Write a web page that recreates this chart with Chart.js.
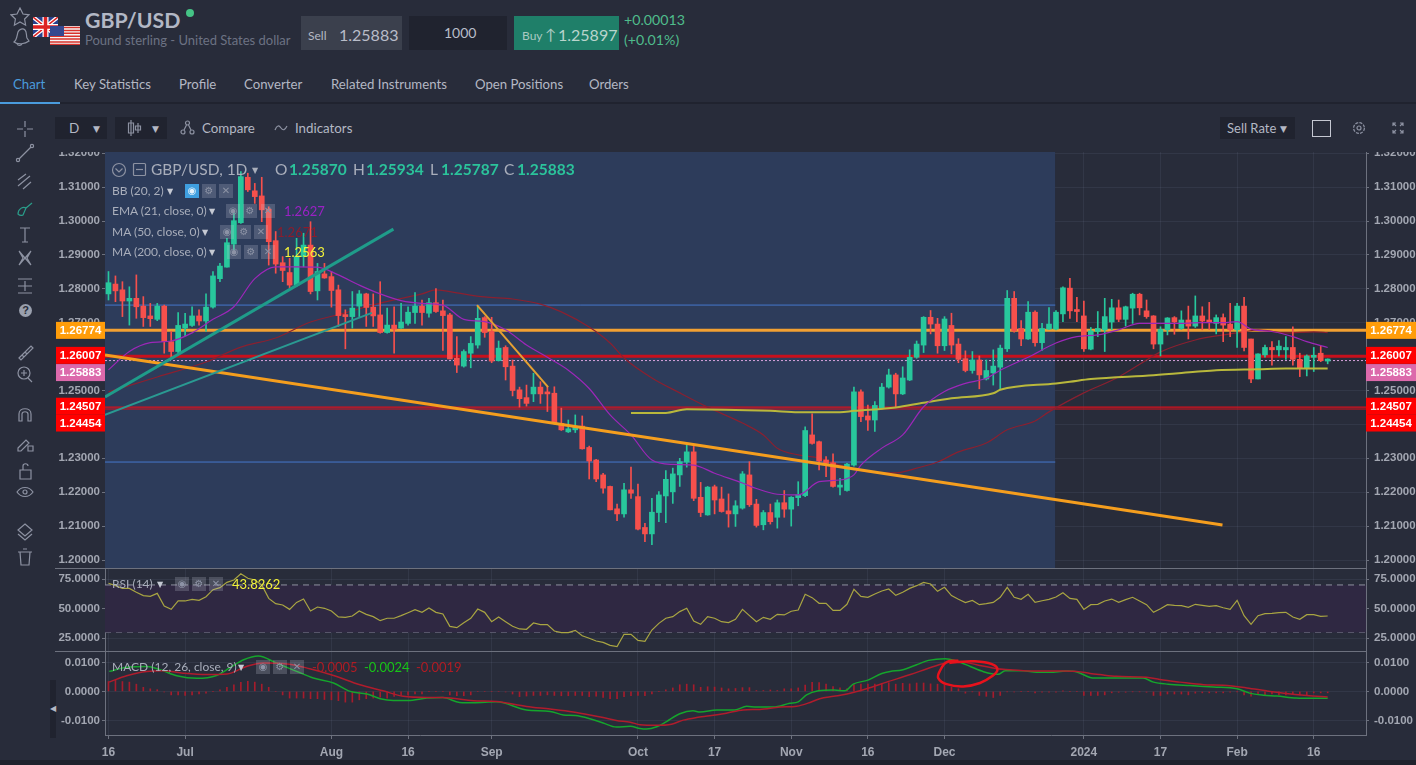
<!DOCTYPE html>
<html>
<head>
<meta charset="utf-8">
<title>GBP/USD</title>
<script src="https://cdn.jsdelivr.net/npm/chart.js@4/dist/chart.umd.min.js"></script>
<style>
  html, body { margin: 0; padding: 0; width: 1416px; height: 765px; overflow: hidden; background: #282c3a; font-family: Lato, "Open Sans", sans-serif; color: #b4b8c4; }
  canvas { position: absolute; left: 56px; display: block; }
  .t { position: absolute; white-space: nowrap; line-height: 1; }
  .box { position: absolute; }
  .rule { position: absolute; left: 55px; width: 1311px; height: 1px; background: #6d717e; }
  .ib { position: absolute; width: 14px; height: 14px; background: rgba(200,205,220,.22); color: #8d93a6; font: 10px/14px "DejaVu Sans"; text-align: center; }
  .ic { position: absolute; fill: none; stroke: #8d92a2; stroke-width: 1.2; }
</style>
</head>
<body>
<div class="box" style="left:0;top:102px;width:1416px;height:2px;background:#20232f"></div>
<div class="box" style="left:0;top:102px;width:60px;height:2px;background:#4a9bdc"></div>
<div class="box" style="left:0;top:760px;width:1416px;height:5px;background:#1f222c"></div>
<div class="box" style="left:50px;top:680px;width:6px;height:58px;background:#20232f"></div>
<div class="t" style="left:50px;top:704px;font:8px 'DejaVu Sans';color:#b4b8c4">◀</div>

<svg class="ic" style="left:10px;top:7px" width="22" height="42" viewBox="0 0 22 42"><path d="M10 1l3 6 6 .8-4.4 4.2 1 6.2L10 15l-5.6 3.2 1-6.2L1 7.8 7 7z"/><path d="M4 35c3-2 3-7 4-10 1-3 5-4 7-2 2 2 1 5 2 8l2 3c-4 3-11 4-15 1zM7 37c1 2 4 2 5 0"/></svg>
<svg style="position:absolute;left:33px;top:17px" width="25" height="20" viewBox="0 0 25 20"><rect width="25" height="20" fill="#27408b"/><path d="M0 0l25 20M25 0L0 20" stroke="#fff" stroke-width="4"/><path d="M0 0l25 20M25 0L0 20" stroke="#d22" stroke-width="1.5"/><path d="M12.5 0v20M0 10h25" stroke="#fff" stroke-width="6"/><path d="M12.5 0v20M0 10h25" stroke="#d22" stroke-width="3.5"/></svg>
<svg style="position:absolute;left:50px;top:26px" width="30" height="19" viewBox="0 0 30 19"><rect width="30" height="19" fill="#f4f4f4"/><path d="M0 1.5h30M0 4.4h30M0 7.3h30M0 10.2h30M0 13.1h30M0 16h30M0 18.6h30" stroke="#d8322a" stroke-width="1.5"/><rect width="14" height="10" fill="#35488f"/></svg>
<div class="t" style="left:85px;top:10px;font-size:21.3px;font-weight:700;color:#b3b8c5">GBP/USD</div>
<div class="box" style="left:186px;top:9px;width:8px;height:8px;border-radius:50%;background:#45c486"></div>
<div class="t" style="left:85px;top:34px;font-size:13px;color:#6c7283">Pound sterling - United States dollar</div>
<div class="box" style="left:301px;top:16px;width:101px;height:34px;background:#3b404d"></div>
<div class="t" style="left:308px;top:30px;font-size:12px;color:#b4b8c4">Sell</div>
<div class="t" style="left:339px;top:27px;font-size:16px;color:#b9bdc9">1.25883</div>
<div class="box" style="left:409px;top:16px;width:98px;height:34px;background:#20232f"></div>
<div class="t" style="left:444px;top:26px;font-size:14px;color:#b9bdc9">1000</div>
<div class="box" style="left:514px;top:16px;width:105px;height:34px;background:#1f7f69"></div>
<div class="t" style="left:522px;top:30px;font-size:12px;color:#a9c9c1">Buy</div>
<div class="t" style="left:545px;top:27px;font-size:15px;color:#a9c9c1">↑</div>
<div class="t" style="left:558px;top:27px;font-size:16px;color:#b9d5cd">1.25897</div>
<div class="t" style="left:624px;top:13px;font-size:14.2px;color:#4fbc8c">+0.00013</div>
<div class="t" style="left:624px;top:33px;font-size:14.2px;color:#4fbc8c">(+0.01%)</div>

<div class="t" style="left:13px;top:78px;font-size:13.2px;color:#4a9bdc">Chart</div>
<div class="t" style="left:74px;top:78px;font-size:13.2px">Key Statistics</div>
<div class="t" style="left:179px;top:78px;font-size:13.2px">Profile</div>
<div class="t" style="left:244px;top:78px;font-size:13.2px">Converter</div>
<div class="t" style="left:331px;top:78px;font-size:13.2px">Related Instruments</div>
<div class="t" style="left:475px;top:78px;font-size:13.2px">Open Positions</div>
<div class="t" style="left:589px;top:78px;font-size:13.2px">Orders</div>

<div class="box" style="left:55px;top:117px;width:52px;height:22px;background:#20232f"></div>
<div class="t" style="left:69px;top:122px;font-size:13.5px">D</div>
<div class="t" style="left:93px;top:124px;font:9px 'DejaVu Sans'">▼</div>
<div class="box" style="left:115px;top:117px;width:52px;height:22px;background:#20232f"></div>
<svg class="ic" style="left:127px;top:119px" width="16" height="18" viewBox="0 0 16 18"><path d="M4 1v16M1.5 4h5v10h-5zM11 4v10M8.5 7h5v4h-5z"/></svg>
<div class="t" style="left:152px;top:124px;font:9px 'DejaVu Sans'">▼</div>
<svg class="ic" style="left:180px;top:120px" width="15" height="15" viewBox="0 0 15 15"><circle cx="7.5" cy="3" r="2"/><circle cx="3" cy="12" r="2"/><circle cx="12" cy="12" r="2"/><path d="M6.5 5L4 10M8.5 5L11 10"/></svg>
<div class="t" style="left:202px;top:122px;font-size:13.3px">Compare</div>
<svg class="ic" style="left:274px;top:123px" width="14" height="10" viewBox="0 0 14 10"><path d="M1 7c2-5 4-5 6-2s4 2 6-2"/></svg>
<div class="t" style="left:295px;top:122px;font-size:13.3px">Indicators</div>
<div class="box" style="left:1220px;top:117px;width:75px;height:22px;background:#20232f"></div>
<div class="t" style="left:1227px;top:122px;font-size:13px">Sell Rate</div>
<div class="t" style="left:1280px;top:124px;font:9px 'DejaVu Sans'">▼</div>
<div class="box" style="left:1312px;top:120px;width:17px;height:15px;border:1px solid #c5c8d2"></div>
<svg class="ic" style="left:1352px;top:121px" width="14" height="14" viewBox="0 0 14 14"><circle cx="7" cy="7" r="2"/><circle cx="7" cy="7" r="5.4" stroke-dasharray="3 1.2"/></svg>
<svg class="ic" style="left:1392px;top:122px" width="12" height="12" viewBox="0 0 12 12"><path d="M1 4V1h3M8 1h3v3M11 8v3H8M4 11H1V8M1 1l3 3M11 1L8 4M11 11L8 8M1 11l3-3"/></svg>

<svg class="ic" style="left:15px;top:118px" width="20" height="450" viewBox="0 0 20 450">
  <path d="M10 3v6M10 13v6M2 11h6M12 11h6"/>
  <circle cx="3" cy="42" r="1.6"/><circle cx="17" cy="28" r="1.6"/><path d="M4 41l12-12"/>
  <path d="M3 62l8-6M3 68l12-10M8 71l8-7"/>
  <path d="M3 96c0-5 5-8 8-6l-3 7c-2 1-4 0-5-1zM11 90l6-5" stroke="#2a9d8a"/>
  <path d="M5 110h10M10 110v14M7 124h6"/>
  <path d="M4 133l12 14M16 133L4 147M4 133l4 7-4 7M16 133l-4 7 4 7"/>
  <path d="M3 161h14M3 175h14M10 163v10M3 168h14"/>
  <path d="M4 240l12-12 2 2-12 12zM7 237l2 2M10 234l2 2"/>
  <circle cx="9" cy="255" r="6"/><path d="M13 260l4 4M9 252v6M6 255h6"/>
  <path d="M4 303v-7c0-7 12-7 12 0v7h-3v-7c0-3-6-3-6 0v7z"/>
  <path d="M3 330l8-8 3 3-8 8h-3zM13 328h5v5h-5z"/>
  <path d="M5 352h11v9H5zM8 352v-4c0-3 5-3 5 0"/>
  <path d="M2 374c4-6 12-6 16 0-4 6-12 6-16 0z"/><circle cx="10" cy="374" r="2"/>
  <path d="M10 406l7 6-7 6-7-6zM3 416l7 6 7-6"/>
  <path d="M5 434h10l-1 13H6zM3 434h14M8 431h4"/>
</svg>
<div class="t" style="left:19px;top:304px;width:13px;height:13px;border-radius:50%;background:#9aa0ae;color:#282c3a;font:bold 11px/13px 'Liberation Sans';text-align:center">?</div>

<canvas id="priceChart" width="1360" height="416" style="top:152px"></canvas>
<canvas id="rsiChart" width="1360" height="83" style="top:568px"></canvas>
<canvas id="macdChart" width="1360" height="109" style="top:651px"></canvas>
<div class="rule" style="top:568px"></div>
<div class="rule" style="top:651px"></div>

<svg class="ic" style="left:111px;top:162px" width="16" height="16" viewBox="0 0 16 16"><circle cx="8" cy="8" r="6.5"/><path d="M4.5 6.5L8 10l3.5-3.5"/></svg>
<svg class="ic" style="left:132px;top:162px" width="15" height="15" viewBox="0 0 15 15"><rect x="1.5" y="1.5" width="12" height="12" rx="1"/><path d="M4 7.5h7"/></svg>
<div class="t" style="left:151px;top:162px;font-size:15.5px;color:#a9aebb">GBP/USD, 1D</div>
<div class="t" style="left:252px;top:166px;font:8px 'DejaVu Sans';color:#a9aebb">▼</div>
<div class="t" style="left:275px;top:162px;font-size:15.5px;color:#a9aebb">O</div>
<div class="t" style="left:289px;top:162px;font-size:15.5px;font-weight:700;color:#2bc39b">1.25870</div>
<div class="t" style="left:353px;top:162px;font-size:15.5px;color:#a9aebb">H</div>
<div class="t" style="left:366px;top:162px;font-size:15.5px;font-weight:700;color:#2bc39b">1.25934</div>
<div class="t" style="left:430px;top:162px;font-size:15.5px;color:#a9aebb">L</div>
<div class="t" style="left:441px;top:162px;font-size:15.5px;font-weight:700;color:#2bc39b">1.25787</div>
<div class="t" style="left:504px;top:162px;font-size:15.5px;color:#a9aebb">C</div>
<div class="t" style="left:517px;top:162px;font-size:15.5px;font-weight:700;color:#2bc39b">1.25883</div>

<div class="t" style="left:112px;top:185px;font-size:12px;color:#a9aebb">BB (20, 2)</div>
<div class="t" style="left:167px;top:187px;font:8px 'DejaVu Sans';color:#c5c9d3">▼</div>
<div class="ib" style="left:185px;top:184px;background:#3f9fe0;color:#e6f2fb">◉</div>
<div class="ib" style="left:202px;top:184px">⚙</div>
<div class="ib" style="left:219px;top:184px">✕</div>

<div class="t" style="left:112px;top:205px;font-size:12px;color:#a9aebb">EMA (21, close, 0)</div>
<div class="t" style="left:209px;top:207px;font:8px 'DejaVu Sans';color:#c5c9d3">▼</div>
<div class="ib" style="left:226px;top:204px">◉</div>
<div class="ib" style="left:243px;top:204px">⚙</div>
<div class="ib" style="left:261px;top:204px">✕</div>
<div class="t" style="left:284px;top:205px;font-size:13px;color:#9a22c4">1.2627</div>

<div class="t" style="left:112px;top:226px;font-size:12px;color:#a9aebb">MA (50, close, 0)</div>
<div class="t" style="left:202px;top:228px;font:8px 'DejaVu Sans';color:#c5c9d3">▼</div>
<div class="ib" style="left:220px;top:225px">◉</div>
<div class="ib" style="left:237px;top:225px">⚙</div>
<div class="ib" style="left:254px;top:225px">✕</div>
<div class="t" style="left:277px;top:226px;font-size:13px;color:#8c1c2c">1.2671</div>

<div class="t" style="left:112px;top:246px;font-size:12px;color:#a9aebb">MA (200, close, 0)</div>
<div class="t" style="left:209px;top:248px;font:8px 'DejaVu Sans';color:#c5c9d3">▼</div>
<div class="ib" style="left:227px;top:245px">◉</div>
<div class="ib" style="left:244px;top:245px">⚙</div>
<div class="ib" style="left:261px;top:245px">✕</div>
<div class="t" style="left:284px;top:246px;font-size:13px;color:#f2f23a">1.2563</div>

<div class="t" style="left:112px;top:578px;font-size:12px;color:#a9aebb">RSI (14)</div>
<div class="t" style="left:157px;top:580px;font:8px 'DejaVu Sans';color:#c5c9d3">▼</div>
<div class="ib" style="left:175px;top:577px">◉</div>
<div class="ib" style="left:192px;top:577px">⚙</div>
<div class="ib" style="left:209px;top:577px">✕</div>
<div class="t" style="left:232px;top:578px;font-size:13px;color:#f2f23a">43.8262</div>

<div class="t" style="left:112px;top:661px;font-size:12px;color:#a9aebb">MACD (12, 26, close, 9)</div>
<div class="t" style="left:238px;top:663px;font:8px 'DejaVu Sans';color:#c5c9d3">▼</div>
<div class="ib" style="left:256px;top:660px">◉</div>
<div class="ib" style="left:273px;top:660px">⚙</div>
<div class="ib" style="left:290px;top:660px">✕</div>
<div class="t" style="left:312px;top:661px;font-size:13px;color:#b01c24">-0.0005</div>
<div class="t" style="left:364px;top:661px;font-size:13px;color:#18c418">-0.0024</div>
<div class="t" style="left:416px;top:661px;font-size:13px;color:#b01c24">-0.0019</div>

<script>
// candles (oldest first)
const opens = [
  1.2785,1.2814,1.2797,1.2764,1.2772,1.2749,1.2720,1.2710,1.2749,1.2644,
  1.2615,1.2684,1.2692,1.2720,1.2705,1.2746,1.2830,1.2864,1.2932,1.2995,
  1.3129,1.3089,1.3074,1.3035,1.2942,1.2877,1.2848,1.2811,1.2895,1.2929,
  1.2794,1.2844,1.2836,1.2797,1.2723,1.2718,1.2749,1.2785,1.2746,1.2723,
  1.2671,1.2693,1.2684,1.2698,1.2730,1.2749,1.2728,1.2759,1.2735,1.2723,
  1.2595,1.2572,1.2610,1.2634,1.2715,1.2674,1.2588,1.2627,1.2572,1.2502,
  1.2479,1.2490,1.2510,1.2492,1.2492,1.2403,1.2378,1.2384,1.2395,1.2332,
  1.2295,1.2251,1.2217,1.2151,1.2136,1.2207,1.2187,1.2096,1.2077,1.2140,
  1.2189,1.2201,1.2251,1.2289,1.2319,1.2185,1.2133,1.2216,1.2180,1.2145,
  1.2136,1.2153,1.2251,1.2165,1.2104,1.2140,1.2126,1.2169,1.2150,1.2184,
  1.2190,1.2369,1.2349,1.2295,1.2287,1.2215,1.2205,1.2280,1.2496,1.2425,
  1.2413,1.2448,1.2510,1.2546,1.2490,1.2531,1.2598,1.2634,1.2716,1.2696,
  1.2632,1.2692,1.2637,1.2594,1.2559,1.2590,1.2534,1.2552,1.2569,1.2623,
  1.2772,1.2683,1.2652,1.2731,1.2641,1.2681,1.2681,1.2726,1.2802,1.2738,
  1.2720,1.2622,1.2674,1.2679,1.2702,1.2744,1.2710,1.2743,1.2784,1.2735,
  1.2720,1.2637,1.2679,1.2715,1.2683,1.2708,1.2690,1.2720,1.2708,1.2698,
  1.2715,1.2696,1.2679,1.2749,1.2652,1.2534,1.2605,1.2627,1.2620,1.2620,
  1.2627,1.2592,1.2565,1.2598,1.2610,1.25870
];
const highs = [
  1.2851,1.2838,1.2821,1.2806,1.2841,1.2777,1.2757,1.2757,1.2752,1.2674,
  1.2730,1.2728,1.2747,1.2738,1.2785,1.2851,1.2875,1.2949,1.3023,1.3146,
  1.3141,1.3111,1.3129,1.3042,1.2969,1.2895,1.2890,1.2949,1.2964,1.2998,
  1.2875,1.2875,1.2851,1.2811,1.2738,1.2792,1.2795,1.2787,1.2785,1.2821,
  1.2743,1.2747,1.2757,1.2747,1.2789,1.2767,1.2772,1.2801,1.2767,1.2728,
  1.2659,1.2620,1.2659,1.2749,1.2718,1.2716,1.2646,1.2632,1.2590,1.2510,
  1.2516,1.2551,1.2526,1.2511,1.2511,1.2448,1.2413,1.2428,1.2425,1.2336,
  1.2297,1.2256,1.2218,1.2165,1.2226,1.2274,1.2224,1.2108,1.2182,1.2202,
  1.2264,1.2271,1.2300,1.2342,1.2335,1.2229,1.2217,1.2221,1.2215,1.2195,
  1.2175,1.2261,1.2290,1.2179,1.2146,1.2165,1.2177,1.2205,1.2187,1.2231,
  1.2393,1.2431,1.2351,1.2305,1.2313,1.2241,1.2285,1.2510,1.2502,1.2457,
  1.2467,1.2521,1.2563,1.2551,1.2570,1.2620,1.2646,1.2718,1.2736,1.2713,
  1.2718,1.2728,1.2653,1.2617,1.2615,1.2602,1.2590,1.2620,1.2634,1.2795,
  1.2792,1.2706,1.2762,1.2735,1.2698,1.2745,1.2736,1.2806,1.2831,1.2775,
  1.2764,1.2686,1.2733,1.2772,1.2769,1.2767,1.2749,1.2787,1.2787,1.2767,
  1.2721,1.2688,1.2715,1.2718,1.2735,1.2749,1.2779,1.2747,1.2760,1.2723,
  1.2726,1.2757,1.2757,1.2775,1.2652,1.2608,1.2634,1.2644,1.2647,1.2659,
  1.2688,1.2610,1.2605,1.2627,1.2631,1.25934
];
const lows = [
  1.2767,1.2762,1.2718,1.2693,1.2713,1.2689,1.2689,1.2706,1.2610,1.2595,
  1.2605,1.2661,1.2689,1.2693,1.2674,1.2743,1.2821,1.2864,1.2915,1.2993,
  1.3087,1.3052,1.2998,1.2870,1.2846,1.2821,1.2802,1.2808,1.2865,1.2785,
  1.2767,1.2831,1.2746,1.2689,1.2623,1.2684,1.2718,1.2689,1.2689,1.2669,
  1.2669,1.2610,1.2683,1.2693,1.2698,1.2693,1.2716,1.2730,1.2618,1.2593,
  1.2553,1.2569,1.2567,1.2625,1.2657,1.2582,1.2587,1.2531,1.2484,1.2451,
  1.2454,1.2467,1.2462,1.2438,1.2401,1.2382,1.2376,1.2376,1.2327,1.2239,
  1.2231,1.2197,1.2148,1.2116,1.2126,1.2182,1.2089,1.2054,1.2045,1.2113,
  1.2110,1.2167,1.2217,1.2274,1.2175,1.2128,1.2132,1.2136,1.2141,1.2097,
  1.2099,1.2150,1.2158,1.2097,1.2089,1.2106,1.2094,1.2126,1.2100,1.2160,
  1.2187,1.2342,1.2266,1.2246,1.2215,1.2192,1.2203,1.2277,1.2408,1.2382,
  1.2379,1.2445,1.2507,1.2452,1.2488,1.2529,1.2595,1.2612,1.2667,1.2610,
  1.2618,1.2608,1.2582,1.2555,1.2551,1.2505,1.2531,1.2516,1.2505,1.2615,
  1.2672,1.2632,1.2651,1.2631,1.2618,1.2680,1.2679,1.2703,1.2713,1.2703,
  1.2615,1.2620,1.2659,1.2615,1.2679,1.2703,1.2690,1.2698,1.2723,1.2713,
  1.2623,1.2602,1.2664,1.2666,1.2680,1.2652,1.2686,1.2679,1.2680,1.2667,
  1.2644,1.2659,1.2627,1.2617,1.2523,1.2534,1.2598,1.2575,1.2602,1.2592,
  1.2575,1.2541,1.2543,1.2556,1.2585,1.25787
];
const closes = [
  1.2818,1.2794,1.2764,1.2772,1.2747,1.2715,1.2712,1.2749,1.2644,1.2615,
  1.2692,1.2696,1.2720,1.2705,1.2746,1.2838,1.2867,1.2936,1.3001,1.3131,
  1.3092,1.3072,1.3033,1.2939,1.2873,1.2854,1.2811,1.2895,1.2929,1.2792,
  1.2851,1.2832,1.2795,1.2721,1.2718,1.2743,1.2785,1.2745,1.2720,1.2671,
  1.2693,1.2681,1.2702,1.2731,1.2749,1.2730,1.2759,1.2733,1.2721,1.2593,
  1.2575,1.2615,1.2639,1.2713,1.2671,1.2587,1.2625,1.2570,1.2500,1.2476,
  1.2462,1.2510,1.2490,1.2490,1.2403,1.2384,1.2387,1.2394,1.2328,1.2292,
  1.2239,1.2212,1.2148,1.2136,1.2207,1.2197,1.2091,1.2077,1.2141,1.2192,
  1.2238,1.2254,1.2290,1.2319,1.2182,1.2140,1.2215,1.2177,1.2143,1.2136,
  1.2160,1.2254,1.2163,1.2102,1.2140,1.2113,1.2169,1.2150,1.2185,1.2192,
  1.2382,1.2344,1.2292,1.2285,1.2217,1.2221,1.2283,1.2496,1.2423,1.2413,
  1.2456,1.2510,1.2546,1.2490,1.2537,1.2598,1.2637,1.2716,1.2696,1.2632,
  1.2711,1.2634,1.2592,1.2559,1.2590,1.2546,1.2559,1.2572,1.2625,1.2772,
  1.2676,1.2652,1.2731,1.2641,1.2683,1.2696,1.2731,1.2803,1.2735,1.2733,
  1.2623,1.2676,1.2683,1.2718,1.2744,1.2710,1.2747,1.2784,1.2744,1.2718,
  1.2637,1.2680,1.2714,1.2702,1.2708,1.2690,1.2720,1.2705,1.2702,1.2715,
  1.2693,1.2679,1.2749,1.2627,1.2534,1.2608,1.2627,1.2620,1.2631,1.2627,
  1.2592,1.2565,1.2602,1.2602,1.2588,1.25883
];

// moving averages, read at the bars where the curve bends
const emaBars = [0,3,6,9,12,15,18,21,24,27,30,33,36,39,42,45,48,51,54,57,60,63,66,69,72,75,78,81,84,87,91,93,96,99,102,105,107,108,111,114,117,120,123,126,128,132,136,139,142,145,148,150,153,157,160,162,164,167,170,172,175];
const emaValues = [1.2561,1.2615,1.2641,1.2646,1.2670,1.2710,1.2747,1.2830,1.2865,1.2865,1.2864,1.2841,1.2811,1.2785,1.2765,1.2757,1.2752,1.2710,1.2703,1.2679,1.2634,1.2598,1.2560,1.2506,1.2428,1.2369,1.2295,1.2282,1.2280,1.2256,1.2227,1.2211,1.2194,1.2192,1.2231,1.2236,1.2251,1.2280,1.2330,1.2369,1.2452,1.2497,1.2521,1.2536,1.2560,1.2598,1.2640,1.2659,1.2664,1.2679,1.2698,1.2698,1.2698,1.2700,1.2700,1.2703,1.2681,1.2674,1.2659,1.2644,1.2627];
const ma50Bars = [0,7,14,19,24,29,34,39,45,47,50,54,58,62,65,69,72,74,78,82,86,91,94,96,99,102,105,109,113,116,119,122,126,129,133,135,140,145,149,151,156,160,163,165,169,173,175];
const ma50Values = [1.2496,1.2540,1.2584,1.2628,1.2655,1.2702,1.2729,1.2758,1.2785,1.2797,1.2788,1.2776,1.2770,1.2755,1.2732,1.2687,1.2640,1.2596,1.2537,1.2493,1.2451,1.2404,1.2369,1.2330,1.2310,1.2301,1.2280,1.2260,1.2257,1.2271,1.2289,1.2319,1.2345,1.2384,1.2410,1.2437,1.2493,1.2540,1.2590,1.2614,1.2649,1.2664,1.2673,1.2679,1.2670,1.2673,1.2671];
const ma200Bars = [75,80,83,95,99,105,107,113,117,121,127,128,136,138,141,150,156,159,165,169,175];
const ma200Values = [1.2434,1.2434,1.2445,1.2440,1.2436,1.2436,1.2440,1.2450,1.2464,1.2477,1.2492,1.2502,1.2521,1.2526,1.2534,1.2545,1.2555,1.2560,1.2563,1.2565,1.2565];

// drawn trend lines and levels
const longTrendBars = [-0.5, 159.9];
const longTrendValues = [1.2605, 1.2103];
const upperTealBars = [-0.5, 40.9];
const upperTealValues = [1.2481, 1.2976];
const lowerTealBars = [-0.5, 37.8];
const lowerTealValues = [1.2428, 1.2729];
const shortTrendBars = [52.9, 63.1];
const shortTrendValues = [1.2752, 1.2510];
const channelLevels = [1.2752, 1.2289];
const levelValues = [1.26774, 1.26007, 1.25883, 1.24507, 1.24454];
const levelTexts = ['1.26774', '1.26007', '1.25883', '1.24507', '1.24454'];
const levelColors = ['#ff9d0a', '#ff0000', '#dc69ab', '#ff0000', '#ff0000'];
const levelLabelShift = [0, -1, 12, -1, 14];

const rsiValues = [
  71.4,69.4,67.1,67.1,63.8,61,60.4,62.9,52.2,49.4,56.5,56.5,57.9,57,60.1,66,67.7,72.2,74.2,79.5,
  75.6,74.2,70,58.7,54.2,53.1,49.4,55.3,58.1,48,51.4,50.3,48,43,42.7,43.8,48,45.2,43.3,39.9,
  41.9,41.9,44.1,46.6,49.2,46.9,50.6,46.9,45.5,35.1,34,38.2,41.9,49.7,46.9,39,43,39,35.1,32.9,
  32.6,37.9,36.5,36.5,31.2,29.8,29.8,31.7,27.2,25,22.7,21.6,19.1,18,28.4,28.4,23.3,22.5,32,37.6,
  41.9,43.3,47.5,50.3,39.6,36.8,43.3,41.9,39,38.2,41,49.4,44.1,39,42.7,41,45.2,44.7,47.8,48.9,
  62.1,59.3,54.5,54.5,48.6,48.6,53.7,66.3,60.4,59.6,62.4,64.9,66.6,61.2,63.8,67.1,69.4,72.2,70.8,64.6,
  68,61,57.9,55.1,57,53.4,54.2,55.3,59.6,68,59.6,57.9,62.1,55.3,56.7,57.9,59.8,63.5,58.7,57.9,
  49.4,53.4,53.7,56.5,58.1,55.3,57.6,59.6,56.5,53.4,46.9,50,53.4,52.8,52.5,51.1,53.7,52.8,52,52.5,
  50.8,49.4,57,44.1,36.8,44.1,45.8,46.1,46.6,46.9,43,41,44.9,44.9,43.5,43.8
];
const rsiUpper = 70;
const rsiLower = 30;

const macdBars = [0.1,2.6,5.5,7.4,9.8,12.7,15.5,17.4,19.4,21.5,24.1,27,29.4,32.3,34.7,37.1,39,40.9,43,45.7,48,50.4,52.4,55.7,60,63.4,65.3,67,69.1,71,72.9,74.9,76.3,77.2,78.7,80.1,82,83.9,84.9,87.3,89.9,91.6,93,95.4,97.8,99,100.2,101.9,104.1,105.7,106.9,109,111,112.2,113.9,116,117.7,120.1,121.8,123.7,125.6,127.7,128.7,131.3,133.2,135.1,137.5,139,140.9,141.6,144.2,148.5,150,152.1,155.2,158.6,162,163.8,165.8,167.7,170.5,172.9,175];
const macdValues = [.0069,.0083,.0086,.0075,.0054,.0045,.0055,.0081,.0109,.0122,.0098,.0069,.0046,.0029,0,-.0009,-.0025,-.0031,-.0031,-.0023,-.0021,-.0038,-.0039,-.0036,-.0064,-.0069,-.0081,-.0083,-.0094,-.0109,-.0123,-.012,-.0128,-.013,-.0122,-.0104,-.0077,-.0067,-.0071,-.0064,-.0064,-.0051,-.0054,-.0054,-.0041,-.0036,-.0012,.0002,.0005,.0002,.0025,.0039,.0062,.0069,.0074,.0092,.0107,.0113,.0104,.0086,.0068,.0059,.0071,.0071,.0066,.0066,.007,.0067,.0048,.0046,.0046,.0046,.0032,.0025,.002,.0015,.0009,-.0006,-.0013,-.0016,-.0023,-.0024,-.0024];
const signalBars = [0.1,2.6,5.5,7.9,10.7,14.1,17,19.8,22.2,26,28.9,32.3,36.1,39.4,42.3,45.7,48,52.4,55.7,60,63.4,66.7,69.1,71,72.9,74.9,76.3,78.7,80.8,82.5,84.4,86.3,88.7,91.1,93.5,96.4,98.8,100.7,102.1,104.1,106,108.8,111.7,115.1,117.5,120.1,121.8,124.6,127.5,129.4,133.2,137,139,140.9,142.3,144.7,149,150.9,153.8,157.2,160,163.4,166.2,168.7,172,175];
const signalValues = [.0032,.0054,.0069,.0071,.0063,.0058,.006,.0086,.0098,.0094,.0078,.0055,.0023,.0002,-.0017,-.0021,-.0021,-.0032,-.0035,-.0052,-.0061,-.0071,-.0081,-.009,-.01,-.0106,-.0115,-.0117,-.0113,-.0099,-.009,-.0084,-.0075,-.0064,-.0062,-.0054,-.0051,-.0038,-.0025,-.0017,-.0009,.0009,.0032,.0058,.0078,.0098,.0104,.0092,.0078,.0075,.007,.007,.0069,.0062,.0058,.0052,.0049,.0041,.0032,.0023,.0021,.0012,.0002,-.0006,-.0014,-.0019];
const histValues = [
  .0034,.004,.0034,.0032,.0025,.0014,.0009,.0006,-.0002,-.0012,-.0012,-.0014,-.0012,-.0009,-.0006,0,.0005,.0014,.0023,.0031,
  .0035,.0032,.0025,.0014,0,-.0012,-.0023,-.0023,-.0023,-.0025,-.0025,-.0028,-.0029,-.0032,-.0037,-.0037,-.0029,-.0025,-.0023,-.002,
  -.0023,-.0017,-.0014,-.0013,-.0009,-.0009,0,0,0,-.0012,-.0015,-.0015,-.0012,0,0,0,0,-.0002,-.0009,-.0018,
  -.0016,-.0014,-.0014,-.0012,-.0014,-.0015,-.0015,-.0014,-.0014,-.0018,-.0016,-.0021,-.0025,-.0025,-.0018,-.0015,-.0014,-.0015,-.0009,0,
  .0005,.0012,.0023,.0025,.0023,.0014,.0016,.0015,.0012,.0009,.001,.0013,.0013,.0003,.0003,.0005,.0003,.0009,.0009,.0012,
  .0022,.0031,.003,.0025,.0017,.0012,.0009,.0023,.0025,.0025,.0025,.0028,.003,.0025,.0028,.0026,.0029,.0029,.0026,.0025,
  .0023,.0015,.0009,-.0006,-.0001,-.0014,-.0017,-.0021,-.0014,-.0001,-.0002,0,0,-.0005,-.0003,-.0003,-.0003,.0001,0,0,
  -.0014,-.0014,-.0014,-.0012,-.0005,-.0003,-.0003,-.0001,-.0001,-.0003,-.0014,-.0014,-.0009,-.0009,-.0009,-.0012,-.0006,-.0005,-.0005,-.0005,
  -.0005,-.0003,-.0001,-.0012,-.0016,-.0009,-.0012,-.0009,-.0012,-.0012,-.0008,-.0012,-.0014,-.0005,-.0005,-.0005
];
// the hand drawn red ring on the MACD pane
const ringBars = [122,120.3,119.3,119.1,120.3,122.7,125.1,126.8,127.6,126.8,124.2,121.8,120.7];
const ringValues = [.0106,.0101,.0069,.0046,.0025,.0017,.0029,.0052,.0075,.0094,.0104,.0101,.0098];

const dateTickBars = [0, 11, 32, 43, 55, 76, 87, 98, 109, 120, 140, 151, 162, 173];
const dateTickLabels = ['16', 'Jul', 'Aug', '16', 'Sep', 'Oct', '17', 'Nov', '16', 'Dec', '2024', '17', 'Feb', '16'];

const firstSlot = -0.5;
const lastSlot = 180.5;
const shadedUntil = 135.9;
const priceMin = 1.19764;
const priceMax = 1.32036;

const gridColor = 'rgba(150,160,185,0.10)';
const axisColor = '#6d717e';
const tickColor = '#a3a7b2';
const tickFont = { family: '"Liberation Sans", Arial, sans-serif', size: 11.5, weight: 'bold' };
const upColor = '#28c79c';
const downColor = '#f6504c';

function pts(bars, values) {
    return bars.map((b, i) => ({ x: b, y: values[i] }));
}

function lineSet(data, color, width, order, extra) {
    return Object.assign({
        type: 'line',
        data: data,
        borderColor: color,
        borderWidth: width,
        pointRadius: 0,
        order: order,
        fill: false
    }, extra || {});
}

function hLine(value, from, to, color, width, order, extra) {
    return lineSet([{ x: from, y: value }, { x: to, y: value }], color, width, order, extra);
}

function xScale(showLabels) {
    return {
        type: 'linear',
        min: firstSlot,
        max: lastSlot,
        offset: false,
        display: true,
        afterBuildTicks: function (scale) {
            scale.ticks = dateTickBars.map(b => ({ value: b }));
        },
        afterFit: function (scale) {
            scale.height = showLabels ? 25 : 0;
            scale.paddingLeft = 0;
            scale.paddingRight = 0;
        },
        ticks: {
            display: showLabels,
            autoSkip: false,
            maxRotation: 0,
            color: tickColor,
            font: { family: tickFont.family, size: 12, weight: 'bold' },
            padding: 6,
            callback: function (value) {
                return dateTickLabels[dateTickBars.indexOf(value)];
            }
        },
        grid: { color: gridColor, offset: false, drawTicks: showLabels, tickLength: 4, tickColor: axisColor },
        border: { display: showLabels, color: axisColor }
    };
}

function yScale(side, min, max, step, digits) {
    const left = side === 'left';
    return {
        position: side,
        min: min,
        max: max,
        afterFit: function (scale) {
            scale.width = left ? 49 : 50;
            scale.paddingTop = 0;
            scale.paddingBottom = 0;
        },
        ticks: {
            stepSize: step,
            includeBounds: false,
            color: tickColor,
            font: tickFont,
            padding: left ? 2 : 5,
            callback: function (value) {
                return value.toFixed(digits);
            }
        },
        grid: { color: gridColor, drawOnChartArea: left, tickLength: 3, tickColor: axisColor },
        border: { color: axisColor }
    };
}

const baseOptions = {
    responsive: false,
    animation: false,
    devicePixelRatio: 1,
    layout: { padding: 0 },
    plugins: { legend: { display: false }, tooltip: { enabled: false } }
};

// coloured price boxes on both axes, nudged apart as the platform does
const levelTags = {
    id: 'levelTags',
    afterDraw: function (chart) {
        const ctx = chart.ctx;
        const y = chart.scales.y;
        ctx.save();
        ctx.textBaseline = 'middle';
        ctx.textAlign = 'center';
        ctx.font = 'bold 11.5px "Liberation Sans", Arial, sans-serif';
        levelValues.forEach((v, i) => {
            const py = y.getPixelForValue(v) + levelLabelShift[i];
            [[0, 49], [chart.chartArea.right, 50]].forEach(side => {
                ctx.fillStyle = levelColors[i];
                ctx.fillRect(side[0], py - 8.5, side[1], 17);
                ctx.fillStyle = '#ffffff';
                ctx.fillText(levelTexts[i], side[0] + side[1] / 2, py + 0.5);
            });
        });
        ctx.restore();
    }
};

const candleIdx = opens.map((o, i) => i);
const candleColors = opens.map((o, i) => closes[i] >= o ? upColor : downColor);

new Chart(document.getElementById('priceChart'), {
    type: 'bar',
    plugins: [levelTags],
    data: {
        datasets: [
            lineSet([{ x: firstSlot, y: priceMax }, { x: shadedUntil, y: priceMax }], 'rgba(0,0,0,0)', 0, 100, { fill: 'start', backgroundColor: '#2d3c5b' }),
            hLine(channelLevels[0], firstSlot, shadedUntil, '#4577cc', 1, 90),
            hLine(channelLevels[1], firstSlot, shadedUntil, '#4577cc', 1, 90),
            hLine(levelValues[0], firstSlot, lastSlot, '#f2a032', 3, 80),
            hLine(levelValues[1], firstSlot, lastSlot, '#c8101c', 3, 80),
            hLine(levelValues[2], firstSlot, lastSlot, '#d9a4de', 1, 80, { borderDash: [2, 2] }),
            hLine(levelValues[3], firstSlot, lastSlot, '#d8101c', 1.2, 80),
            hLine(levelValues[4], firstSlot, lastSlot, '#d8101c', 1.2, 80),
            lineSet(pts(ma50Bars, ma50Values), '#8a2030', 1.2, 60, { cubicInterpolationMode: 'monotone' }),
            {
                type: 'bar',
                grouped: false,
                barThickness: 1,
                data: candleIdx.map(i => ({ x: i, y: [lows[i], highs[i]] })),
                backgroundColor: candleColors,
                order: 50
            },
            {
                type: 'bar',
                grouped: false,
                barThickness: 5,
                minBarLength: 2,
                data: candleIdx.map(i => ({ x: i, y: [opens[i], closes[i]] })),
                backgroundColor: candleColors,
                order: 40
            },
            lineSet(pts(emaBars, emaValues), '#9c27b8', 1.2, 30, { cubicInterpolationMode: 'monotone' }),
            lineSet(pts(ma200Bars, ma200Values), '#b9b83c', 2, 30, { cubicInterpolationMode: 'monotone' }),
            lineSet(pts(upperTealBars, upperTealValues), '#1f9c8a', 3, 20),
            lineSet(pts(lowerTealBars, lowerTealValues), '#2a9a92', 2, 20),
            lineSet(pts(longTrendBars, longTrendValues), '#f59e1e', 3, 20),
            lineSet(pts(shortTrendBars, shortTrendValues), '#e5a032', 2, 20)
        ]
    },
    options: Object.assign({}, baseOptions, {
        scales: {
            x: xScale(false),
            y: yScale('left', priceMin, priceMax, 0.01, 5),
            yRight: yScale('right', priceMin, priceMax, 0.01, 5)
        }
    })
});

new Chart(document.getElementById('rsiChart'), {
    type: 'bar',
    data: {
        datasets: [
            hLine(rsiUpper, firstSlot, lastSlot, '#8f92a0', 1, 90, { borderDash: [6, 5], fill: { value: rsiLower }, backgroundColor: '#2f2842' }),
            hLine(rsiLower, firstSlot, lastSlot, '#8f92a0', 1, 90, { borderDash: [6, 5] }),
            lineSet(candleIdx.map(i => ({ x: i, y: rsiValues[i] })), '#a9a542', 1.2, 10)
        ]
    },
    options: Object.assign({}, baseOptions, {
        scales: {
            x: xScale(false),
            y: yScale('left', 14.3, 84.3, 25, 4),
            yRight: yScale('right', 14.3, 84.3, 25, 4)
        }
    })
});

new Chart(document.getElementById('macdChart'), {
    type: 'bar',
    data: {
        datasets: [
            {
                type: 'bar',
                grouped: false,
                barThickness: 1,
                data: candleIdx.map(i => ({ x: i, y: histValues[i] })),
                backgroundColor: '#a51c2c',
                order: 50
            },
            lineSet(pts(macdBars, macdValues), '#15a52c', 1.5, 30, { cubicInterpolationMode: 'monotone' }),
            lineSet(pts(signalBars, signalValues), '#b01c2c', 1.5, 20, { cubicInterpolationMode: 'monotone' }),
            lineSet(pts(ringBars, ringValues), '#e8121c', 2.5, 10, { tension: 0.4 })
        ]
    },
    options: Object.assign({}, baseOptions, {
        scales: {
            x: xScale(true),
            y: yScale('left', -0.01503, 0.01393, 0.01, 4),
            yRight: yScale('right', -0.01503, 0.01393, 0.01, 4)
        }
    })
});
</script>
</body>
</html>
